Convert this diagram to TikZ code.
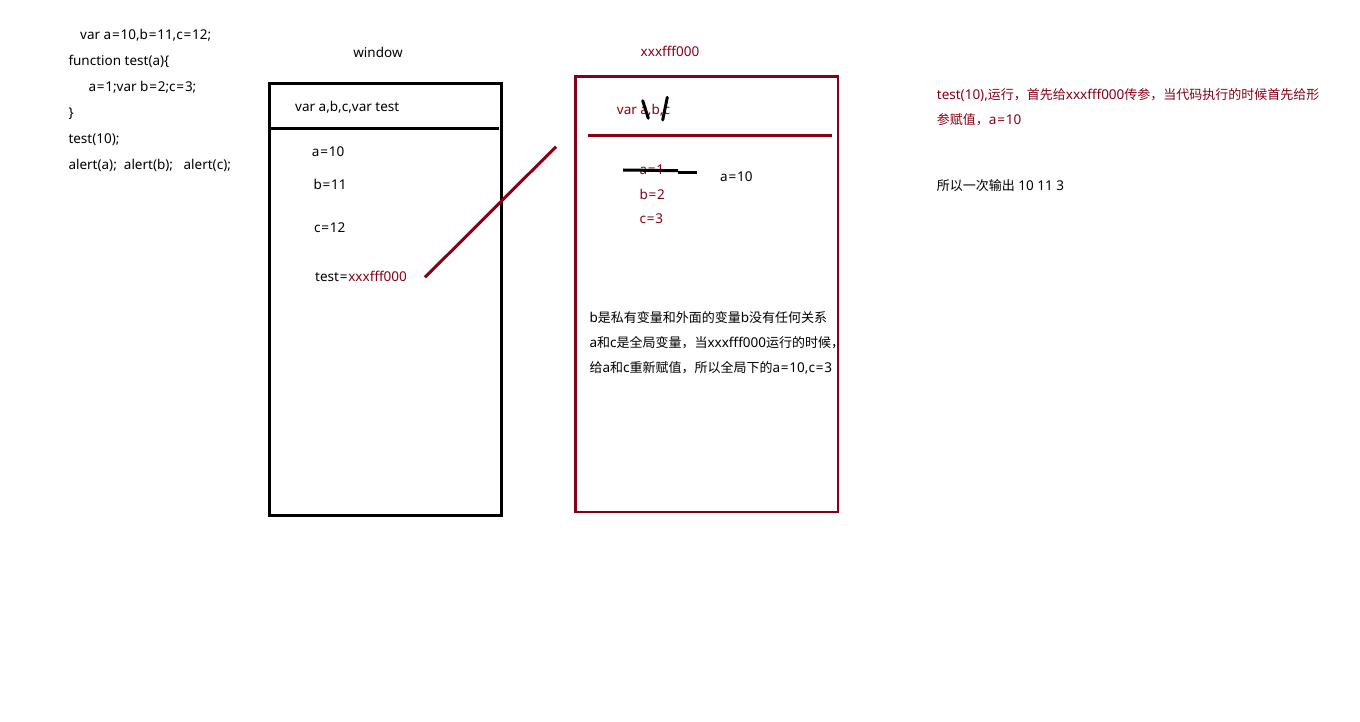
\documentclass[tikz,border=0pt]{standalone}
\usepackage{fontspec}
\setmainfont{Noto Sans}
\newfontfamily\cjk{Noto Sans CJK SC}
\newcommand\zhtxt[1]{{\cjk\fontsize{13}{15}\selectfont #1}}
\newcommand\eqs{\kern0.8pt=\kern0.8pt}
\definecolor{dred}{RGB}{136,0,21}
\begin{document}
\begin{tikzpicture}[x=1pt,y=-1pt,
  txt/.style={anchor=base west,inner sep=0pt,font=\fontsize{13.5}{15}\selectfont},
  rtxt/.style={txt,text=dred},
  box/.style={line width=3pt},
  rbox/.style={line width=2.7pt,draw=dred},
  pen/.style={line width=3pt,line cap=round}]
\useasboundingbox (0,0) rectangle (1360,722);
% code
\node[txt] (c1) at (80,40) {var a\eqs10,b\eqs11,c\eqs12;};
\node[txt] (c2) at (68.3,65.5) {function test(a)\{};
\node[txt] (c3) at (88.3,91.5) {a\eqs1;var b\eqs2;c\eqs3;};
\node[txt] (c4) at (68.3,117.5) {\}};
\node[txt] (c5) at (68.3,143.5) {test(10);};
\node[txt] (c6) at (68.3,169.5) {alert(a);\ \ alert(b);\ \ \ alert(c);};
% window
\node[txt,anchor=base] (wt) at (378,58) {window};
\draw[box] (269.5,83.3) rectangle (501.3,515);
\draw[box] (270,129) -- (498.7,129);
\node[txt] (w0) at (295,111.5) {var a,b,c,var test};
\node[txt] (w1) at (311.7,156.5) {a\eqs10};
\node[txt] (w2) at (313.3,190) {b\eqs11};
\node[txt] (w3) at (314,233) {c\eqs12};
\node[txt] (w4) at (315,281.5) {test\eqs\textcolor{dred}{xxxfff000}};
% connector
\coordinate (lnA) at (425,277.3);
\coordinate (lnB) at (556,146.7);
\draw[line width=3pt,dred] (lnA) -- (lnB);
% function box
\node[rtxt,anchor=base] (ft) at (670,57) {xxxfff000};
\draw[rbox] (575.5,76.5) rectangle (838,512);
\draw[rbox] (588.3,135.3) -- (831.7,135.3);
\node[rtxt] (f0) at (616.7,115) {var a,b,c};
\draw[pen] (642.7,100.7) -- (648.3,118.3);
\draw[pen] (667.3,97.3) -- (662.7,120);
\node[rtxt] (f1) at (639.3,175) {a\eqs1};
\draw[line width=3pt] (623,170) -- (678,170.7);
\draw[line width=3pt] (678,172.3) -- (697,172.3);
\node[rtxt] (f2) at (639.3,200) {b\eqs2};
\node[rtxt] (f3) at (639.3,224) {c\eqs3};
\node[txt] (f4) at (720,181.5) {a\eqs10};
\node[txt] (p1) at (589.3,322) {b\zhtxt{是私有变量和外面的变量}b\zhtxt{没有任何关系}};
\node[txt] (p2) at (589.3,347.5) {a\zhtxt{和}c\zhtxt{是全局变量，当}xxxfff000\zhtxt{运行的时候，}};
\node[txt] (p3) at (589.3,372.5) {\zhtxt{给}a\zhtxt{和}c\zhtxt{重新赋值，所以全局下的}a\eqs10,c\eqs3};
% right notes
\node[rtxt] (n1) at (936.7,100) {test(10),\zhtxt{运行，首先给}xxxfff000\zhtxt{传参，当代码执行的时候首先给形}};
\node[rtxt] (n2) at (936.7,125) {\zhtxt{参赋值，}a\eqs10};
\node[txt] (n3) at (936.7,191) {\zhtxt{所以一次输出} 10 11 3};
\end{tikzpicture}
\end{document}
